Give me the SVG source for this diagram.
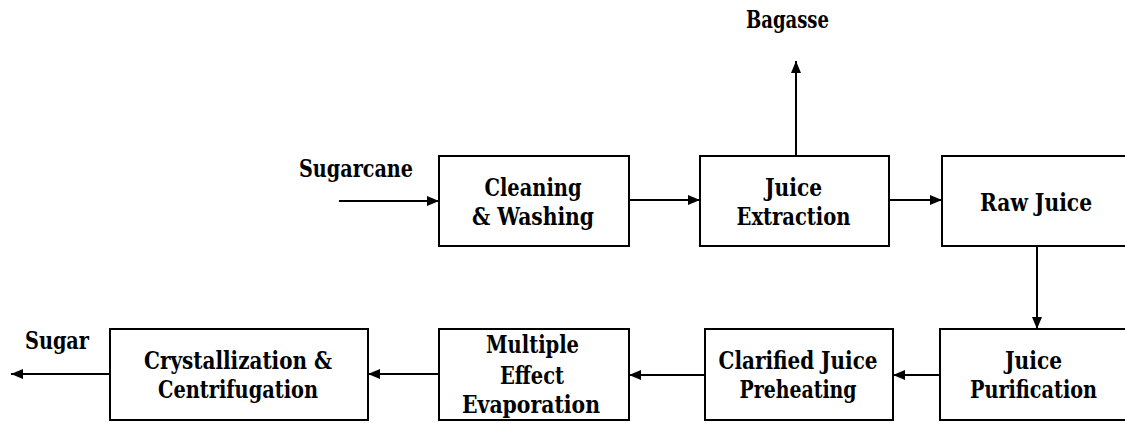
<svg xmlns="http://www.w3.org/2000/svg" width="1125" height="423" viewBox="0 0 1125 423">
<style>
.box{fill:#fff;stroke:#000;stroke-width:2}
.t{font-family:'DejaVu Serif',serif;font-stretch:condensed;font-weight:bold;font-size:24px;fill:#000;text-anchor:middle}
.c{stroke:#000;stroke-width:2;fill:none;marker-end:url(#ah)}
</style>
<defs>
<marker id="ah" viewBox="0 0 12 10" refX="12" refY="5" markerWidth="12" markerHeight="10" markerUnits="userSpaceOnUse" orient="auto">
<path d="M0,0 L12,5 L0,10 Z" fill="#000"/>
</marker>
</defs>
<rect width="1125" height="423" fill="#fff"/>
<g id="connectors">
<line class="c" x1="339" y1="201" x2="439" y2="201"/>
<line class="c" x1="629" y1="200" x2="700" y2="200"/>
<line class="c" x1="796" y1="156" x2="796" y2="61"/>
<line class="c" x1="889" y1="200" x2="942" y2="200"/>
<line class="c" x1="1037" y1="246" x2="1037" y2="329"/>
<line class="c" x1="940" y1="375" x2="893" y2="375"/>
<line class="c" x1="705" y1="375" x2="629" y2="375"/>
<line class="c" x1="439" y1="374" x2="368" y2="374"/>
<line class="c" x1="110" y1="374" x2="11" y2="374"/>
</g>
<g id="label-sugarcane"><text class="t" x="356" y="177" textLength="114" lengthAdjust="spacingAndGlyphs">Sugarcane</text></g>
<g id="label-bagasse"><text class="t" x="787.5" y="28" textLength="83" lengthAdjust="spacingAndGlyphs">Bagasse</text></g>
<g id="label-sugar"><text class="t" x="57" y="349" textLength="64" lengthAdjust="spacingAndGlyphs">Sugar</text></g>
<g id="cleaning">
<rect class="box" x="439" y="156" width="190" height="90"/>
<text class="t" x="533" y="196" textLength="97" lengthAdjust="spacingAndGlyphs">Cleaning</text>
<text class="t" x="533" y="224.5" textLength="122" lengthAdjust="spacingAndGlyphs">&amp; Washing</text>
</g>
<g id="extraction">
<rect class="box" x="700" y="156" width="189" height="90"/>
<text class="t" x="793.5" y="196" textLength="57" lengthAdjust="spacingAndGlyphs">Juice</text>
<text class="t" x="793.5" y="224.5" textLength="114" lengthAdjust="spacingAndGlyphs">Extraction</text>
</g>
<g id="raw-juice">
<rect class="box" x="942" y="156" width="200" height="90"/>
<text class="t" x="1036" y="211" textLength="112" lengthAdjust="spacingAndGlyphs">Raw Juice</text>
</g>
<g id="purification">
<rect class="box" x="940" y="329" width="200" height="91"/>
<text class="t" x="1033.5" y="369" textLength="57" lengthAdjust="spacingAndGlyphs">Juice</text>
<text class="t" x="1033.5" y="397.5" textLength="127" lengthAdjust="spacingAndGlyphs">Purification</text>
</g>
<g id="preheating">
<rect class="box" x="705" y="329" width="188" height="91"/>
<text class="t" x="798" y="369" textLength="159" lengthAdjust="spacingAndGlyphs">Clarified Juice</text>
<text class="t" x="798" y="397.5" textLength="117" lengthAdjust="spacingAndGlyphs">Preheating</text>
</g>
<g id="evaporation">
<rect class="box" x="439" y="329" width="190" height="91"/>
<text class="t" x="532.5" y="353" textLength="93" lengthAdjust="spacingAndGlyphs">Multiple</text>
<text class="t" x="532" y="383.5" textLength="64" lengthAdjust="spacingAndGlyphs">Effect</text>
<text class="t" x="531" y="413" textLength="138" lengthAdjust="spacingAndGlyphs">Evaporation</text>
</g>
<g id="crystallization">
<rect class="box" x="110" y="329" width="258" height="91"/>
<text class="t" x="238" y="369" textLength="188" lengthAdjust="spacingAndGlyphs">Crystallization &amp;</text>
<text class="t" x="238" y="397.5" textLength="160" lengthAdjust="spacingAndGlyphs">Centrifugation</text>
</g>
</svg>
